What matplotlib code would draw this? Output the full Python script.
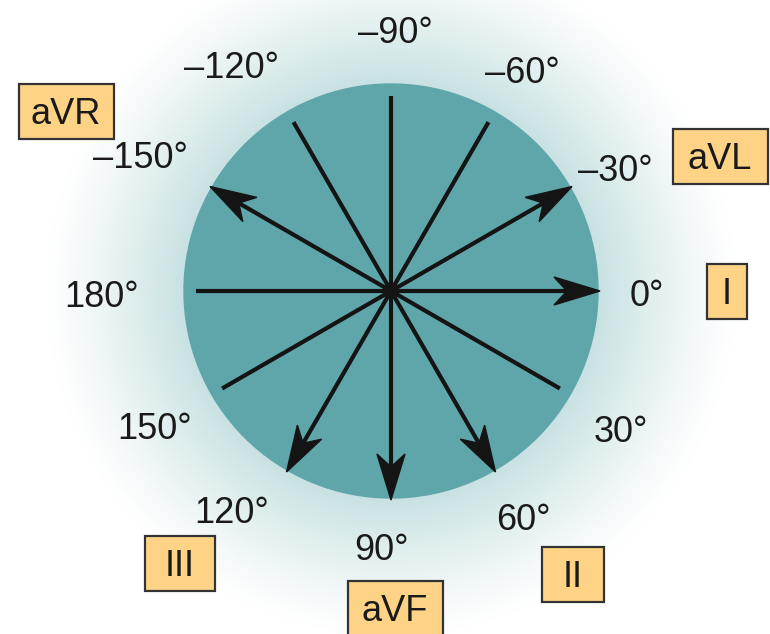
import numpy as np
import matplotlib.pyplot as plt
from matplotlib.patches import Circle, Rectangle, Polygon

plt.rcParams['font.family'] = ['Liberation Sans', 'DejaVu Sans']

# angoli delle derivazioni (gradi, verso orario come nell'ECG)
angoli = [-150, -120, -90, -60, -30, 0, 30, 60, 90, 120, 150, 180]
etichette = ['–150°', '–120°', '–90°', '–60°', '–30°', '0°',
             '30°', '60°', '90°', '120°', '150°', '180°']
# derivazioni con freccia
derivazioni = ['aVR', 'aVL', 'I', 'II', 'aVF', 'III']
angoli_deriv = [-150, -30, 0, 60, 90, 120]

# layout (pixel)
cx, cy, R = 391, 291, 207
r_linea = 195
r_freccia = 209
pos_etich = [(140, 155), (232, 65), (395, 30), (522, 70), (615, 168), (647, 293),
             (621, 429), (523, 517), (381, 547), (232, 510), (155, 426), (102, 294)]
box_pos = [(66, 111), (720, 156), (727, 291), (573, 574), (395, 608), (180, 563)]
box_w = [95, 95, 40, 62, 95, 70]
box_h = 55
fs = 26
mezza_cap = 13  # meta' altezza maiuscole in pixel

fig = plt.figure(figsize=(7.7, 6.34), dpi=100)
ax = fig.add_axes([0, 0, 1, 1])
ax.set_xlim(0, 770)
ax.set_ylim(634, 0)
ax.axis('off')

# alone sfumato attorno al cerchio
xx, yy = np.meshgrid(np.arange(770) + 0.5, np.arange(634) + 0.5)
rr = np.hypot(xx - cx, yy - cy)
t = np.clip((rr - R) / (345 - R), 0, 1)
alpha = (1 - t) ** 1.2
glow = np.array([200, 225, 226]) / 255
img = np.ones((634, 770, 3)) * (1 - alpha[..., None]) + glow * alpha[..., None]
ax.imshow(img, extent=[0, 770, 634, 0], zorder=0)

ax.add_patch(Circle((cx, cy), R, color='#5fa6aa', zorder=1))

lw = 3.0
for a in angoli:
    th = np.radians(a)
    d = np.array([np.cos(th), np.sin(th)])
    if a in angoli_deriv:
        tip = np.array([cx, cy]) + r_freccia * d
        L, W = 46, 14
        perp = np.array([-d[1], d[0]])
        base = tip - L * d
        notch = tip - 0.72 * L * d
        ax.plot([cx, notch[0]], [cy, notch[1]], color='#141414', lw=lw,
                solid_capstyle='butt', zorder=2)
        ax.add_patch(Polygon([tip, base + W * perp, notch, base - W * perp],
                             closed=True, color='#141414', zorder=3))
    else:
        end = np.array([cx, cy]) + r_linea * d
        ax.plot([cx, end[0]], [cy, end[1]], color='#141414', lw=lw,
                solid_capstyle='butt', zorder=2)

ax.add_patch(Circle((cx, cy), 7, color='#141414', zorder=3))

for lab, (tx, ty) in zip(etichette, pos_etich):
    ax.text(tx, ty + mezza_cap, lab, fontsize=fs, ha='center', va='baseline',
            color='#1a1a1a', zorder=4)

for nome, (bx, by), w in zip(derivazioni, box_pos, box_w):
    ax.add_patch(Rectangle((bx - w / 2, by - box_h / 2), w, box_h,
                           facecolor='#ffd386', edgecolor='#333333', lw=1.6, zorder=4))
    ax.text(bx, by + mezza_cap, nome, fontsize=fs, ha='center', va='baseline',
            color='#1a1a1a', zorder=5)

plt.savefig('out.png', dpi=100)
